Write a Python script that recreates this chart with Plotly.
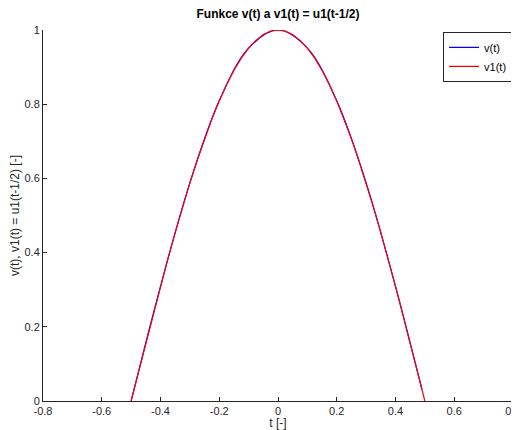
import plotly.graph_objects as go

t_vals = [-0.5, -0.475, -0.45, -0.425, -0.4, -0.375, -0.35, -0.325, -0.3, -0.275, -0.25,
          -0.225, -0.2, -0.175, -0.15, -0.125, -0.1, -0.075, -0.05, -0.025, 0.0,
          0.025, 0.05, 0.075, 0.1, 0.125, 0.15, 0.175, 0.2, 0.225, 0.25,
          0.275, 0.3, 0.325, 0.35, 0.375, 0.4, 0.425, 0.45, 0.475, 0.5]
v1_vals = [0.0, 0.078, 0.156, 0.233, 0.309, 0.383, 0.454, 0.522, 0.588, 0.649, 0.707,
           0.760, 0.809, 0.853, 0.891, 0.924, 0.951, 0.972, 0.988, 0.997, 1.0,
           0.997, 0.988, 0.972, 0.951, 0.924, 0.891, 0.853, 0.809, 0.760, 0.707,
           0.649, 0.588, 0.522, 0.454, 0.383, 0.309, 0.233, 0.156, 0.078, 0.0]
v_t = [-0.5, -0.4, -0.3, -0.2, -0.1, 0.0, 0.1, 0.2, 0.3, 0.4, 0.45, 0.48, 0.49]
v_vals = [0.0, 0.309, 0.588, 0.809, 0.951, 1.0, 0.951, 0.809, 0.588, 0.309, 0.156, 0.063, 0.031]
x_ticks = [-0.8, -0.6, -0.4, -0.2, 0, 0.2, 0.4, 0.6, 0.8]
x_labels = ["-0.8", "-0.6", "-0.4", "-0.2", "0", "0.2", "0.4", "0.6", "0.8"]
y_ticks = [0, 0.2, 0.4, 0.6, 0.8, 1]
y_labels = ["0", "0.2", "0.4", "0.6", "0.8", "1"]

fig = go.Figure()
fig.add_trace(go.Scatter(x=v_t, y=v_vals, mode="lines", name="v(t)",
                         line=dict(color="#0000ff", width=1.2, shape="spline")))
fig.add_trace(go.Scatter(x=t_vals, y=v1_vals, mode="lines", name="v1(t)",
                         line=dict(color="#ff0000", width=1.2)))

FONT = "Liberation Sans, Arial"
axis_common = dict(showgrid=False, zeroline=False, showline=True, linecolor="#262626",
                   linewidth=1, ticks="inside", ticklen=4, tickcolor="#262626",
                   tickfont=dict(family=FONT, size=11, color="#262626"),
                   mirror=False, automargin=False, ticklabeloverflow="allow")

# page has an 8px body margin: figure starts at page px 8
W, H = 519, 422
fig.update_layout(
    width=W, height=H,
    margin=dict(l=35, r=14, t=22, b=29, autoexpand=False),
    paper_bgcolor="white", plot_bgcolor="white",
    title=dict(text="<b>Funkce v(t) a v1(t) = u1(t-1/2)</b>", x=(35 + 505) / 2 / W,
               xanchor="center", y=1 - 6 / H, yanchor="middle",
               font=dict(family=FONT, size=12, color="#000000")),
    xaxis=dict(range=[-0.8, 0.80001], tickvals=x_ticks, ticktext=x_labels,
               title=dict(text="t [-]", standoff=0,
                          font=dict(family=FONT, size=12, color="#262626")),
               **axis_common),
    yaxis=dict(range=[0, 1], tickvals=y_ticks, ticktext=y_labels,
               title=dict(text="v(t), v1(t) = u1(t-1/2) [-]", standoff=6,
                          font=dict(family=FONT, size=12, color="#262626")),
               **axis_common),
    legend=dict(x=0.998, y=0.995, xanchor="right", yanchor="top",
                bgcolor="white", bordercolor="#262626", borderwidth=1,
                font=dict(family=FONT, size=11, color="#000000"),
                itemwidth=30, tracegroupgap=0),
    showlegend=True,
)

fig.write_html("out.html")
